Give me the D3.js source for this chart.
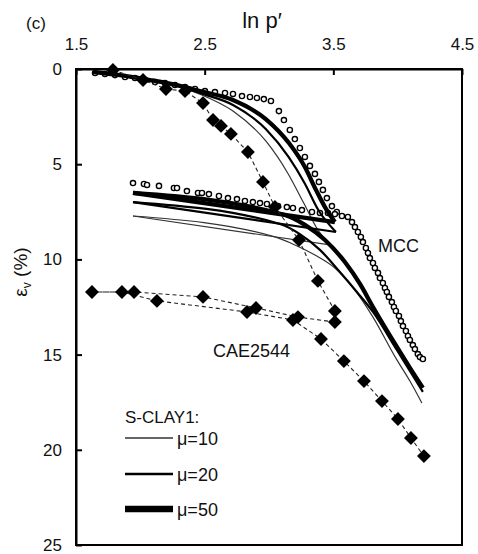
<!DOCTYPE html>
<html><head><meta charset="utf-8">
<script src="https://cdn.jsdelivr.net/npm/d3@7"></script>
<style>
body{margin:0;background:#fff}
svg{display:block}
text{font-family:"Liberation Sans",Arial,sans-serif;fill:#111}
</style>
</head><body>
<svg id="chart" width="478" height="554"></svg>
<script>
// ---- data (x = ln p', y = volumetric strain %) ----
const xTicks = [1.5, 2.5, 3.5, 4.5];
const yTicks = [0, 5, 10, 15, 20, 25];

const cae2544 = [[1.787,0.05],[2.021,0.58],[2.199,1.05],[2.347,1.16],[2.487,1.79],[2.565,2.68],[2.627,2.99],[2.704,3.41],[2.836,4.36],[2.953,5.93],[3.046,7.25],[3.233,8.98],[3.380,11.13],[3.512,12.71],[3.512,13.29],[3.225,13.03],[2.899,12.55],[2.487,11.97],[1.951,11.71],[1.624,11.71],[1.857,11.71],[2.129,12.18],[2.829,12.76],[3.186,13.18],[3.404,14.18],[3.582,15.34],[3.738,16.39],[3.878,17.44],[4.002,18.38],[4.103,19.38],[4.204,20.33]];

const mcc = [[1.648,0.21],[1.725,0.26],[1.803,0.32],[1.881,0.42],[1.958,0.47],[2.036,0.58],[2.114,0.68],[2.191,0.74],[2.269,0.84],[2.347,0.95],[2.425,1.05],[2.502,1.16],[2.580,1.21],[2.658,1.26],[2.720,1.31],[2.790,1.42],[2.852,1.47],[2.906,1.52],[2.960,1.58],[3.015,1.68],
[3.077,2.21],[3.116,2.68],[3.162,3.20],[3.201,3.68],[3.240,4.15],[3.279,4.62],[3.318,5.09],[3.357,5.51],[3.388,5.93],[3.419,6.35],[3.450,6.78],[3.489,7.20],[3.527,7.51],
[1.943,5.99],[2.028,6.04],[2.052,6.09],[2.145,6.14],[2.261,6.25],[2.285,6.25],[2.362,6.41],[2.448,6.51],[2.479,6.51],[2.533,6.57],[2.611,6.67],[2.681,6.78],[2.751,6.83],[2.813,6.93],[2.875,6.99],[2.930,7.04],[2.984,7.09],[3.070,7.20],[3.139,7.25],[3.186,7.30],[3.256,7.41],[3.334,7.51],[3.396,7.56],[3.458,7.56],[3.512,7.62],[3.567,7.72],[3.613,7.77],
[3.645,8.04],[3.668,8.30],[3.691,8.56],[3.714,8.82],[3.730,9.09],[3.753,9.40],[3.769,9.66],[3.784,9.93],[3.808,10.19],[3.823,10.45],[3.847,10.71],[3.862,10.98],[3.885,11.24],[3.901,11.50],[3.916,11.71],[3.932,11.97],[3.955,12.24],[3.971,12.50],[3.986,12.71],[4.010,12.97],[4.025,13.24],[4.041,13.50],[4.064,13.76],[4.080,14.02],[4.095,14.23],[4.118,14.50],[4.134,14.71],[4.157,14.97],[4.173,15.13],[4.196,15.23]];

// S-CLAY1 simulations: loading branch, then unload/reload branch
const mu10Load = [[1.632,0.16],[1.842,0.37],[2.075,0.63],[2.308,0.95],[2.463,1.32],[2.720,2.21],[2.975,3.78],[3.145,5.46],[3.270,7.04],[3.380,8.45],[3.474,9.24]];
const mu10Reload = [[1.943,7.72],[3.046,8.82],[3.201,9.24],[3.357,9.77],[3.512,10.45],[3.668,11.61],[3.808,13.03],[3.994,15.28],[4.095,16.39],[4.188,17.54]];
const mu20Load = [[1.632,0.16],[1.842,0.32],[2.075,0.58],[2.308,0.89],[2.463,1.26],[2.720,1.89],[2.975,3.15],[3.152,4.62],[3.276,5.99],[3.388,7.46],[3.520,8.56]];
const mu20Reload = [[1.943,6.99],[3.085,8.14],[3.240,8.67],[3.396,9.50],[3.551,10.66],[3.683,11.71],[3.808,12.76],[3.994,14.76],[4.095,15.86],[4.196,16.96]];
const mu50Load = [[1.632,0.16],[1.842,0.32],[2.075,0.58],[2.308,0.89],[2.463,1.16],[2.720,1.63],[2.975,2.63],[3.155,3.89],[3.279,5.15],[3.365,6.35],[3.443,7.35],[3.512,8.04]];
const mu50Reload = [[1.943,6.51],[3.124,7.67],[3.279,8.19],[3.435,8.98],[3.590,10.14],[3.707,11.29],[3.808,12.50],[3.994,14.60],[4.095,15.70],[4.196,16.75]];

const legendLabels = ["μ=10", "μ=20", "μ=50"];

// ---- drawing ----
const svg = d3.select("#chart");
const L = 76, R = 462, T = 69, B = 545;
const x = d3.scaleLinear().domain([1.5, 4.5]).range([L, R]);
const y = d3.scaleLinear().domain([0, 25]).range([T, B]);

const sims = [
  {load: mu10Load, reload: mu10Reload, w: 1.2, c: "#333"},
  {load: mu20Load, reload: mu20Reload, w: 2.2, c: "#000"},
  {load: mu50Load, reload: mu50Reload, w: 4.3, c: "#000"}
];

// frame
const frame = svg.append("g").attr("class", "frame");
[[L, T, R, T], [R, T, R, B], [L, B, R, B], [L, T, L, B]].forEach(s => {
  frame.append("line").attr("x1", s[0]).attr("y1", s[1]).attr("x2", s[2]).attr("y2", s[3])
    .attr("stroke", "#000").attr("stroke-width", 2).attr("stroke-linecap", "square");
});

// MCC circles (under the lines)
svg.append("g").selectAll("circle").data(mcc).join("circle")
  .attr("cx", d => x(d[0])).attr("cy", d => y(d[1])).attr("r", 2.6)
  .attr("fill", "#fff").attr("stroke", "#000").attr("stroke-width", 1.4);

const smooth = d3.line().x(d => x(d[0])).y(d => y(d[1])).curve(d3.curveMonotoneX);
const straight = d3.line().x(d => x(d[0])).y(d => y(d[1]));
const gs = svg.append("g").attr("fill", "none");
sims.forEach(s => {
  gs.append("path").attr("d", smooth(s.load)).attr("stroke", s.c).attr("stroke-width", s.w);
  gs.append("path").attr("d", straight([s.load[s.load.length-1], s.reload[0]])).attr("stroke", s.c).attr("stroke-width", s.w);
  gs.append("path").attr("d", smooth(s.reload)).attr("stroke", s.c).attr("stroke-width", s.w);
});

// CAE2544 experimental data
svg.append("path").attr("d", straight(cae2544)).attr("fill", "none")
  .attr("stroke", "#222").attr("stroke-width", 1.1).attr("stroke-dasharray", "4,3");
const dia = d3.symbol(d3.symbolSquare, 96)();
svg.append("g").selectAll("path").data(cae2544).join("path")
  .attr("d", dia).attr("fill", "#000")
  .attr("transform", d => `translate(${x(d[0])},${y(d[1])}) rotate(45)`);

// axes
const ax = svg.append("g").attr("transform", `translate(0,${T})`)
  .call(d3.axisTop(x).tickValues(xTicks).tickFormat(d3.format(".1f")).tickSizeInner(-6).tickSizeOuter(0).tickPadding(19));
const ay = svg.append("g").attr("transform", `translate(${L},0)`)
  .call(d3.axisLeft(y).tickValues(yTicks).tickFormat(d3.format("d")).tickSizeInner(-6).tickSizeOuter(0).tickPadding(14));
[ax, ay].forEach(a => {
  a.select(".domain").attr("stroke", "#000").attr("stroke-width", 2);
  a.selectAll(".tick line").attr("stroke", "#000").attr("stroke-width", 2);
  a.selectAll("text").attr("font-size", 17).attr("font-family", '"Liberation Sans",Arial,sans-serif').attr("fill", "#111");
});

// titles
svg.append("text").attr("x", 262).attr("y", 28).attr("text-anchor", "middle").attr("font-size", 22).text("ln p′");
svg.append("text").attr("x", 26).attr("y", 29).attr("font-size", 17).text("(c)");
const yl = svg.append("text").attr("transform", "translate(27,272) rotate(-90)").attr("text-anchor", "middle").attr("font-size", 19);
yl.append("tspan").text("ε");
yl.append("tspan").attr("font-size", 12).attr("dy", 4).text("v");
yl.append("tspan").attr("dy", -4).text(" (%)");

svg.append("text").attr("x", 378).attr("y", 252).attr("font-size", 18).text("MCC");
svg.append("text").attr("x", 213).attr("y", 357).attr("font-size", 18).text("CAE2544");

// legend
svg.append("text").attr("x", 125).attr("y", 423).attr("font-size", 17).text("S-CLAY1:");
const legW = [1.3, 2.7, 6.5];
const legY = [438, 474, 509];
legendLabels.forEach((lab, i) => {
  svg.append("line").attr("x1", 125).attr("x2", 173).attr("y1", legY[i]).attr("y2", legY[i])
    .attr("stroke", sims[i].c).attr("stroke-width", legW[i]);
  svg.append("text").attr("x", 177).attr("y", legY[i] + 6.5).attr("font-size", 18)
    .attr("font-family", '"Liberation Serif","Times New Roman",serif').text(lab);
});
</script>
</body></html>
